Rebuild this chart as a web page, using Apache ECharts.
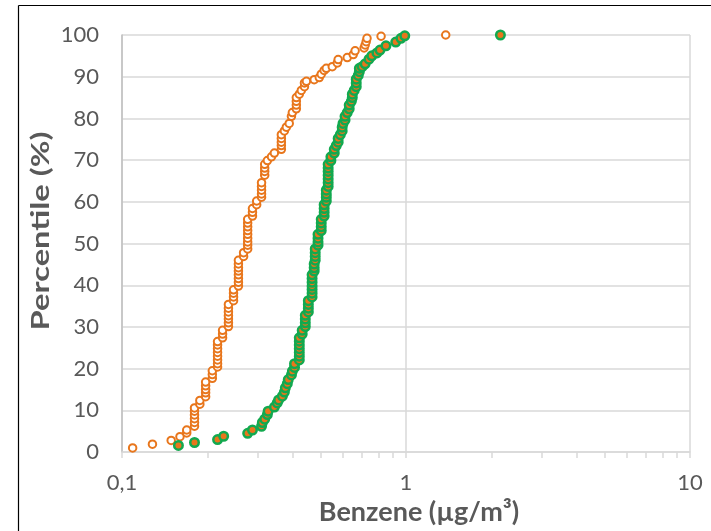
<!DOCTYPE html>
<html>
<head>
<meta charset="utf-8">
<title>Benzene cumulative distribution</title>
<script src="https://cdn.jsdelivr.net/npm/echarts@6/dist/echarts.min.js"></script>
<style>
  html, body { margin: 0; padding: 0; background: #ffffff; }
  #chart { width: 711px; height: 531px; }
</style>
</head>
<body>
<div id="chart"></div>
<script>
// Benzene concentration (µg/m³) against cumulative percentile, two sample sets.
const orangeValues = [
  0.109, 0.128, 0.149, 0.160, 0.169, 0.169,
  0.180, 0.180, 0.180, 0.180, 0.180, 0.180,
  0.188, 0.188,
  0.197, 0.197, 0.197, 0.197, 0.197,
  0.208, 0.208, 0.208,
  0.217, 0.217, 0.217, 0.217, 0.217, 0.217, 0.217, 0.217,
  0.226, 0.226, 0.226,
  0.237, 0.237, 0.237, 0.237, 0.237, 0.237, 0.237,
  0.247, 0.247, 0.247, 0.247,
  0.257, 0.257, 0.257, 0.257, 0.257, 0.257, 0.257, 0.257,
  0.268, 0.268,
  0.277, 0.277, 0.277, 0.277, 0.277, 0.277, 0.277, 0.277, 0.277,
  0.288, 0.288, 0.288,
  0.298, 0.298,
  0.310, 0.310, 0.310, 0.310, 0.310,
  0.318, 0.318, 0.318, 0.318,
  0.325, 0.336, 0.344,
  0.364, 0.364, 0.364, 0.364, 0.364,
  0.373, 0.379, 0.388, 0.395, 0.398,
  0.411, 0.411, 0.411, 0.411,
  0.421, 0.428, 0.439, 0.439, 0.446, 0.475, 0.495, 0.503, 0.515, 0.524,
  0.550, 0.573, 0.577, 0.621, 0.652, 0.662, 0.712, 0.718, 0.724, 0.729,
  0.817, 1.38
];
const orangePct = [
  1.0, 1.9, 2.8, 3.7, 4.6, 5.3,
  6.2, 7.1, 8.0, 8.9, 9.8, 10.6,
  11.5, 12.4,
  13.3, 14.2, 15.0, 15.9, 16.8,
  17.7, 18.6, 19.5,
  20.4, 21.2, 22.1, 23.0, 23.9, 24.8, 25.7, 26.5,
  27.4, 28.3, 29.2,
  30.1, 31.0, 31.9, 32.7, 33.6, 34.5, 35.4,
  36.3, 37.2, 38.1, 38.9,
  39.8, 40.7, 41.6, 42.5, 43.4, 44.2, 45.1, 46.0,
  46.9, 47.8,
  48.7, 49.6, 50.4, 51.3, 52.2, 53.1, 54.0, 54.9, 55.8,
  56.6, 57.5, 58.4,
  59.3, 60.2,
  61.1, 61.9, 62.8, 63.7, 64.6,
  66.4, 67.3, 68.1, 69.0,
  69.9, 70.8, 71.7,
  72.6, 73.5, 74.3, 75.2, 76.1,
  77.0, 77.9, 78.8, 80.5, 81.4,
  82.3, 83.2, 84.1, 85.0,
  85.8, 86.7, 87.6, 88.5, 88.9, 89.3, 89.8, 90.6, 91.5, 92.0,
  92.4, 93.3, 94.1, 94.6, 95.3, 96.2, 96.9, 97.6, 98.4, 99.2,
  99.7, 100
];
const greenValues = [
  0.158, 0.180, 0.217, 0.228, 0.277, 0.288, 0.310, 0.312, 0.318, 0.325,
  0.327, 0.344, 0.352, 0.356, 0.367, 0.373, 0.376, 0.382, 0.385, 0.395,
  0.398,
  0.405, 0.405,
  0.421, 0.421, 0.421, 0.421, 0.421, 0.421, 0.421,
  0.431, 0.431,
  0.442, 0.442, 0.442, 0.442,
  0.453, 0.453, 0.453, 0.453,
  0.467, 0.467, 0.467, 0.467, 0.467, 0.467, 0.467,
  0.475, 0.475, 0.475,
  0.479, 0.479, 0.479, 0.479,
  0.490, 0.490, 0.490, 0.490,
  0.503, 0.503, 0.503, 0.503,
  0.515, 0.515, 0.515, 0.515,
  0.524, 0.524, 0.524, 0.524,
  0.532, 0.532, 0.532, 0.532, 0.532, 0.532, 0.532,
  0.544, 0.544,
  0.559, 0.559, 0.568, 0.577, 0.577, 0.587, 0.596, 0.596, 0.600, 0.610,
  0.610, 0.621, 0.631, 0.631, 0.642, 0.647, 0.647, 0.657, 0.668, 0.668,
  0.668, 0.679, 0.685, 0.685, 0.701, 0.718, 0.741, 0.758, 0.790, 0.810,
  0.850, 0.920, 0.960, 0.990, 2.15
];
const greenPct = [
  1.6, 2.3, 3.0, 3.8, 4.5, 5.3, 6.2, 7.1, 7.9, 9.0,
  9.8, 10.8, 11.8, 12.5, 13.4, 14.4, 15.4, 16.4, 17.4, 18.5,
  19.4,
  20.3, 21.2,
  22.1, 23.0, 23.9, 24.8, 25.7, 26.6, 27.4,
  28.3, 29.2,
  30.1, 31.0, 31.9, 32.8,
  33.6, 34.5, 35.4, 36.3,
  37.2, 38.1, 39.0, 39.8, 40.7, 41.6, 42.5,
  43.4, 44.2, 45.1,
  46.0, 46.9, 47.8, 48.7,
  49.6, 50.4, 51.3, 52.2,
  53.1, 54.0, 54.9, 55.8,
  56.6, 57.5, 58.4, 59.3,
  60.2, 61.1, 61.9, 62.8,
  63.7, 64.6, 65.5, 66.4, 67.3, 68.1, 69.0,
  69.9, 70.8,
  71.7, 72.6, 73.5, 74.3, 75.2, 76.1, 77.0, 77.9, 78.8, 79.6,
  80.5, 81.4, 82.3, 83.2, 84.1, 85.0, 85.8, 86.7, 87.6, 88.5,
  89.4, 90.3, 91.2, 92.0, 92.4, 93.1, 94.2, 95.0, 95.7, 96.4,
  97.4, 98.3, 99.2, 99.8, 100
];
// Minor ticks of the logarithmic axis (1–9 in each decade)
const xTickValues = [0.1, 0.2, 0.3, 0.4, 0.5, 0.6, 0.7, 0.8, 0.9, 1,
                     2, 3, 4, 5, 6, 7, 8, 9, 10];
const xLabelValues = [0.1, 1, 10];

const zip = (xs, ys) => xs.map((v, i) => [v, ys[i]]);

const FONT = 'Lato, "Open Sans", "Liberation Sans", sans-serif';
const TEXT = '#595959';
const GRID = '#d9d9d9';
const ORANGE = '#e8761c';
const GREEN = '#12a94f';

const GRID_LEFT = 122, GRID_TOP = 35, GRID_BOTTOM = 78, GRID_RIGHT = 21;

const chart = echarts.init(document.getElementById('chart'), null, { renderer: 'canvas' });
chart.setOption({
  animation: false,
  backgroundColor: '#ffffff',
  grid: { left: GRID_LEFT, right: GRID_RIGHT, top: GRID_TOP, bottom: GRID_BOTTOM, containLabel: false },
  xAxis: [
    {
      // main axis: labels, decade grid lines, title
      type: 'log',
      logBase: 10,
      min: 0.1,
      max: 10,
      name: 'Benzene (µg/m³)',
      nameLocation: 'middle',
      nameGap: 45,
      nameTextStyle: {
        fontFamily: FONT, fontSize: 27, fontWeight: 'bold', color: TEXT,
        padding: [0, 0, 0, 26]
      },
      axisLine: { show: true, lineStyle: { color: GRID, width: 1.5 } },
      axisTick: { show: false },
      axisLabel: {
        customValues: xLabelValues,
        margin: 20,
        fontFamily: FONT, fontSize: 22, color: TEXT,
        formatter: v => String(v).replace('.', ',')
      },
      splitLine: { show: true, lineStyle: { color: GRID, width: 1.5 } }
    },
    {
      // overlay axis carrying only the 1–9 ticks below the plot
      type: 'log',
      logBase: 10,
      min: 0.1,
      max: 10,
      position: 'bottom',
      axisLine: { show: false },
      axisTick: {
        show: true, inside: false, length: 6,
        customValues: xTickValues,
        lineStyle: { color: GRID, width: 1.5 }
      },
      axisLabel: { show: false },
      splitLine: { show: false }
    }
  ],
  yAxis: {
    type: 'value',
    min: 0,
    max: 100,
    interval: 10,
    axisLine: { show: true, lineStyle: { color: '#bfbfbf', width: 1.5 } },
    axisTick: { show: false },
    axisLabel: { margin: 23, fontFamily: FONT, fontSize: 22, color: TEXT },
    splitLine: { show: true, lineStyle: { color: GRID, width: 1.5 } }
  },
  graphic: [
    { type: 'line', shape: { x1: 18.5, y1: 5.5, x2: 711, y2: 5.5 }, style: { stroke: '#000', lineWidth: 1.2 } },
    { type: 'line', shape: { x1: 18.5, y1: 5.5, x2: 18.5, y2: 531 }, style: { stroke: '#000', lineWidth: 1.2 } },
    {
      // vertical axis title, widened along its reading direction
      type: 'text',
      x: 41,
      y: 231,
      rotation: Math.PI / 2,
      scaleX: 1.36,
      scaleY: 1,
      style: {
        text: 'Percentile (%)',
        fontFamily: FONT, fontSize: 24, fontWeight: 'bold',
        fill: TEXT, align: 'center', verticalAlign: 'middle'
      }
    }
  ],
  series: [
    {
      name: 'Set A',
      type: 'scatter',
      xAxisIndex: 0,
      data: zip(orangeValues, orangePct),
      symbol: 'circle',
      symbolSize: 7.5,
      itemStyle: { color: '#ffffff', borderColor: ORANGE, borderWidth: 2, opacity: 1 },
      z: 3
    },
    {
      name: 'Set B',
      type: 'scatter',
      xAxisIndex: 0,
      data: zip(greenValues, greenPct),
      symbol: 'circle',
      symbolSize: 8.5,
      itemStyle: { color: ORANGE, borderColor: GREEN, borderWidth: 2.5, opacity: 1 },
      z: 4
    }
  ]
});
</script>
</body>
</html>
